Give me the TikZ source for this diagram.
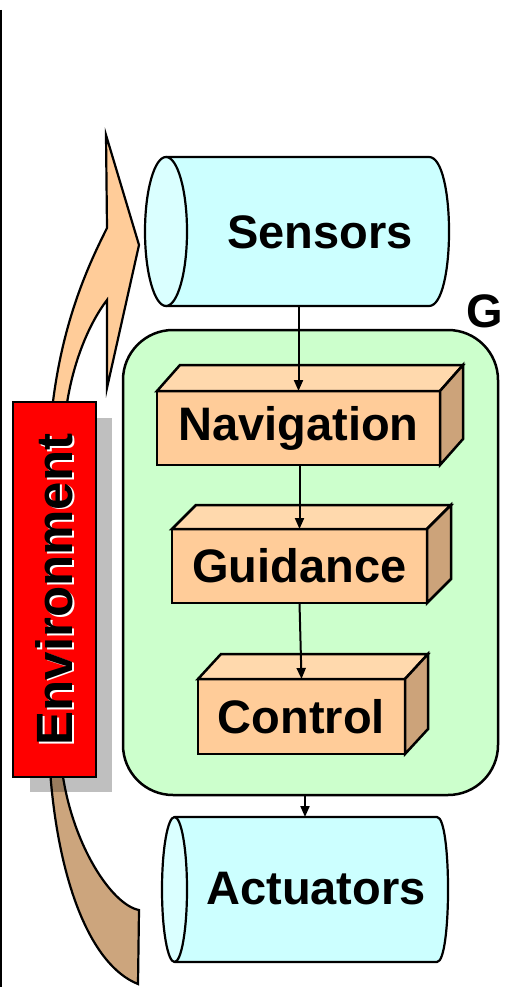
\documentclass[tikz,border=0pt]{standalone}
\usepackage{fontspec}
\setmainfont{Liberation Sans}
\usetikzlibrary{arrows.meta}
\definecolor{cylbody}{HTML}{CCFFFF}
\definecolor{cylend}{HTML}{DAFFFF}
\definecolor{gncgreen}{HTML}{CCFFCC}
\definecolor{boxfront}{HTML}{FFCC99}
\definecolor{boxtop}{HTML}{FFD9AD}
\definecolor{boxside}{HTML}{CCA37A}
\definecolor{arrowup}{HTML}{FFCC99}
\definecolor{arrowdown}{HTML}{CCA57D}
\begin{document}
\begin{tikzpicture}[x=1pt,y=-1pt,
  lbl/.style={font=\bfseries\fontsize{47}{50}\selectfont},
  front/.style={draw, line width=2.5pt, fill=boxfront, inner sep=0pt, outer sep=0pt, lbl},
  topface/.style={draw, line width=2.5pt, fill=boxtop, line join=miter},
  sideface/.style={draw, line width=2.5pt, fill=boxside, line join=miter},
  cylline/.style={draw, line width=2.2pt, line join=round},
  geo/.style={inner sep=0pt, outer sep=0pt},
  conn/.style={line width=2pt, -{Triangle[length=11pt,width=9pt]}},
  bigarrow/.style={draw, line width=2.2pt, line join=miter},
]
\useasboundingbox (0,0) rectangle (504,987);
\fill[white] (0,0) rectangle (504,987);

% left frame line
\draw[line width=2pt] (1,10) -- (1,987);

% environment arrows
\path[bigarrow, fill=arrowup] (106,135) -- (139,245) -- (107,388) -- (107,300)
  .. controls (88,325) and (72,365) .. (66,410) -- (52,410)
  .. controls (62,320) and (90,262) .. (107,228) -- cycle;
\path[bigarrow, fill=arrowdown] (50,770) .. controls (58,880) and (90,965) .. (138,984)
  -- (139,910) .. controls (112,905) and (72,845) .. (62,770) -- cycle;

% environment box with shadow
\fill[black, opacity=0.25] (30,418) rectangle (112,792);
\node[draw, line width=1.5pt, fill=red, minimum width=83pt, minimum height=375pt, geo] (env) at (54.5,589.5) {};
\node[rotate=90, white, font=\bfseries\fontsize{51}{54}\selectfont] (envw) at ([shift={(1.8,1.8)}]env.center) {Environment};
\node[rotate=90, black, font=\bfseries\fontsize{51}{54}\selectfont] (envt) at (env.center) {Environment};

% GNC box
\node[draw, line width=2.5pt, fill=gncgreen, rounded corners=50pt, minimum width=375pt, minimum height=465pt, geo] (gnc) at (310.5,562.5) {};
\node[lbl, anchor=base west, inner sep=0pt] (g) at (466,327) {G};

% Navigation
\node[front, minimum width=283pt, minimum height=74pt] (nav) at (298.5,428) {Navigation};
\path[topface] (nav.north west) -- ++(23,-26) -- ++(283,0) -- (nav.north east) -- cycle;
\path[sideface] (nav.north east) -- ++(23,-26) -- ++(0,74) -- (nav.south east) -- cycle;

% Guidance
\node[front, minimum width=255pt, minimum height=74pt] (guid) at (299.5,566) {Guidance};
\path[topface] (guid.north west) -- ++(24,-24) -- ++(255,0) -- (guid.north east) -- cycle;
\path[sideface] (guid.north east) -- ++(24,-24) -- ++(0,74) -- (guid.south east) -- cycle;

% Control
\node[front, minimum width=207pt, minimum height=75pt] (ctrl) at (301.5,716.5) {Control};
\path[topface] (ctrl.north west) -- ++(23,-25) -- ++(207,0) -- (ctrl.north east) -- cycle;
\path[sideface] (ctrl.north east) -- ++(23,-25) -- ++(0,75) -- (ctrl.south east) -- cycle;

% Sensors cylinder
\path[cylline, fill=cylbody] (166,157) -- (429,157) .. controls (455.7,157) and (455.7,306) .. (429,306) -- (166,306) -- cycle;
\path[cylline, fill=cylend] (166,231.5) ellipse [x radius=21, y radius=74.5];
\node[geo, minimum width=304pt, minimum height=149pt] (sens) at (297,231.5) {};
\node[lbl, inner sep=0pt] (senslbl) at (320,232) {Sensors};

% Actuators cylinder
\path[cylline, fill=cylbody] (174.5,817) -- (437,817) .. controls (451.7,817) and (451.7,962) .. (437,962) -- (174.5,962) -- cycle;
\path[cylline, fill=cylend] (174.5,889.5) ellipse [x radius=12.5, y radius=72.5];
\node[geo, minimum width=286pt, minimum height=145pt] (act) at (305,889.5) {};
\node[lbl, inner sep=0pt] (actlbl) at (316,889) {Actuators};

% connectors
\draw[conn] (sens.south -| nav.north) -- (nav.north);
\draw[conn] (nav.south -| guid.north) -- (guid.north);
\draw[conn] (guid.south) -- (ctrl.north);
\draw[conn] (act.north |- gnc.south) -- (act.north);
\end{tikzpicture}
\end{document}
